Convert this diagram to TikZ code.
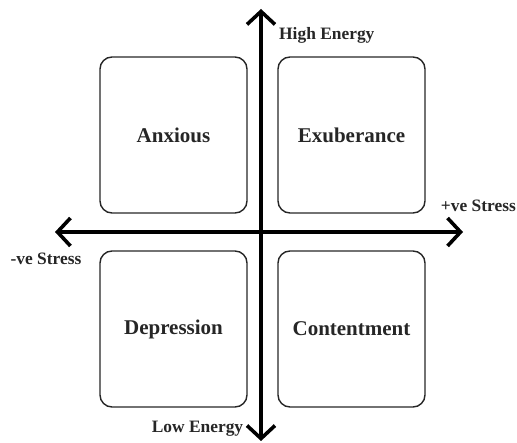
\documentclass[tikz,border=0pt]{standalone}
\usepackage{fontspec}
\setmainfont{Liberation Serif}
\usepackage{tikz}
\usetikzlibrary{arrows.meta,positioning}

\begin{document}
\begin{tikzpicture}[x=1pt,y=-1pt,>={Straight Barb[length=13pt,width=28pt]}]
  \tikzstyle{quadrant}=[rectangle,draw=black!85,line width=1.4pt,rounded corners=12pt,
  			  minimum width=147pt,minimum height=156pt,text=black!85,
  			  font=\bfseries\fontsize{21}{25}\selectfont]
  \tikzstyle{axis}=[line width=3.6pt,black]
  \tikzstyle{axis label}=[inner sep=0pt,text=black!85,font=\bfseries\fontsize{17.4}{20}\selectfont]

  \useasboundingbox (0,0) rectangle (517,443);

  % axes
  \coordinate (origin) at (261,232);
  \coordinate (top) at (261,9);
  \coordinate (bottom) at (261,441);
  \coordinate (left) at (55,232);
  \coordinate (right) at (463,232);
  \draw [axis,<->] (left) -- (right);
  \draw [axis,<->] (bottom) -- (top);

  % quadrants
  \node [quadrant] (anxious) at (173.5,135) {Anxious};
  \node [quadrant] (exuberance) at (351.5,135) {Exuberance};
  \node [quadrant] (depression) at (173.5,329) {Depression};
  \node [quadrant] (contentment) at (351.5,329) {Contentment};

  % axis labels
  \node [axis label,anchor=west] (high) at (279,35) {High Energy};
  \node [axis label,anchor=east] (pos) at (516,206) {+ve Stress};
  \node [axis label] (neg) at (46,259) {-ve Stress};
  \node [axis label] (low) at (197.5,429) {Low Energy};
\end{tikzpicture}
\end{document}
